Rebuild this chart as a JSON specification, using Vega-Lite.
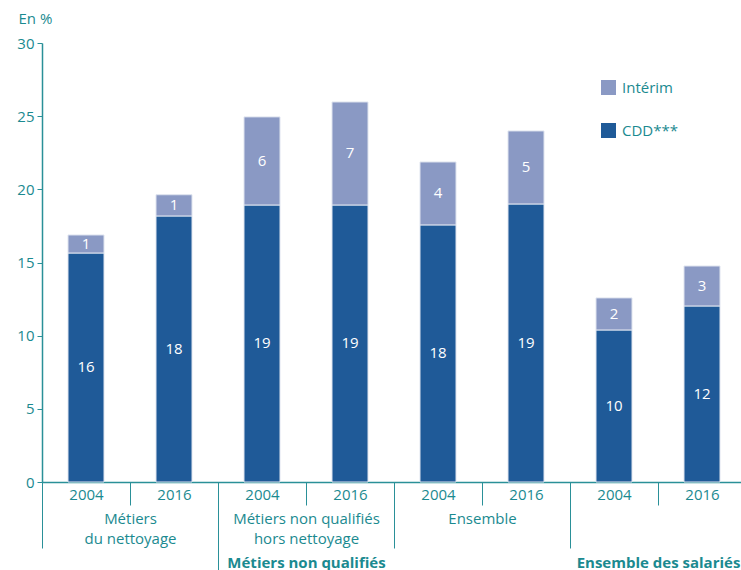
{
  "$schema": "https://vega.github.io/schema/vega-lite/v6.json",
  "width": 699,
  "height": 439,
  "autosize": "none",
  "padding": {"left": 42, "top": 43, "right": 0, "bottom": 88},
  "background": "white",
  "data": {
    "values": [
      {"groupe": "Métiers du nettoyage", "annee": "2004", "serie": "CDD***", "valeur": 15.65},
      {"groupe": "Métiers du nettoyage", "annee": "2004", "serie": "Intérim", "valeur": 1.23},
      {"groupe": "Métiers du nettoyage", "annee": "2016", "serie": "CDD***", "valeur": 18.18},
      {"groupe": "Métiers du nettoyage", "annee": "2016", "serie": "Intérim", "valeur": 1.45},
      {"groupe": "Métiers non qualifiés hors nettoyage", "annee": "2004", "serie": "CDD***", "valeur": 18.93},
      {"groupe": "Métiers non qualifiés hors nettoyage", "annee": "2004", "serie": "Intérim", "valeur": 6.02},
      {"groupe": "Métiers non qualifiés hors nettoyage", "annee": "2016", "serie": "CDD***", "valeur": 18.93},
      {"groupe": "Métiers non qualifiés hors nettoyage", "annee": "2016", "serie": "Intérim", "valeur": 7.04},
      {"groupe": "Ensemble", "annee": "2004", "serie": "CDD***", "valeur": 17.57},
      {"groupe": "Ensemble", "annee": "2004", "serie": "Intérim", "valeur": 4.3},
      {"groupe": "Ensemble", "annee": "2016", "serie": "CDD***", "valeur": 19.0},
      {"groupe": "Ensemble", "annee": "2016", "serie": "Intérim", "valeur": 4.99},
      {"groupe": "Ensemble des salariés", "annee": "2004", "serie": "CDD***", "valeur": 10.39},
      {"groupe": "Ensemble des salariés", "annee": "2004", "serie": "Intérim", "valeur": 2.19},
      {"groupe": "Ensemble des salariés", "annee": "2016", "serie": "CDD***", "valeur": 12.03},
      {"groupe": "Ensemble des salariés", "annee": "2016", "serie": "Intérim", "valeur": 2.73}
    ]
  },
  "transform": [
    {"calculate": "datum.groupe + '|' + datum.annee", "as": "barre"}
  ],
  "layer": [
    {
      "layer": [
        {
          "mark": {"type": "bar", "width": 36, "stroke": "#dfe4ef", "strokeWidth": 1},
          "encoding": {
            "y": {"field": "valeur", "type": "quantitative", "stack": "zero"},
            "order": {"field": "serie", "sort": "ascending"},
            "color": {
              "field": "serie",
              "type": "nominal",
              "scale": {"domain": ["CDD***", "Intérim"], "range": ["#1f5a98", "#8a99c4"]},
              "legend": {
                "values": ["Intérim", "CDD***"],
                "orient": "none",
                "legendX": 559,
                "legendY": 37,
                "title": null,
                "padding": 0,
                "symbolType": "square",
                "symbolSize": 225,
                "symbolStrokeWidth": 0,
                "labelFontSize": 15,
                "labelColor": "#1b8a90",
                "labelFont": "Open Sans",
                "labelOffset": 6,
                "rowPadding": 27
              }
            }
          }
        },
        {
          "mark": {"type": "text", "color": "white", "fontSize": 15, "font": "Open Sans", "baseline": "middle"},
          "encoding": {
            "y": {"field": "valeur", "type": "quantitative", "stack": "zero", "bandPosition": 0.5},
            "order": {"field": "serie", "sort": "ascending"},
            "detail": {"field": "serie"},
            "text": {"field": "valeur", "type": "quantitative", "format": ".0f"}
          }
        }
      ],
      "encoding": {
        "x": {
          "field": "barre",
          "type": "nominal",
          "sort": null,
          "scale": {"range": [0, 704], "paddingInner": 0, "paddingOuter": 0},
          "axis": {
            "title": null,
            "orient": "bottom",
            "labelExpr": "split(datum.label, '|')[1]",
            "labelAngle": 0,
            "tickBand": "extent",
            "tickSize": 23,
            "labelPadding": -18,
            "labelFontSize": 15,
            "labelFont": "Open Sans",
            "labelColor": "#1b8a90",
            "tickColor": "#2a9098",
            "domainColor": "#2a9098",
            "domainWidth": 1.5
          }
        },
        "y": {
          "field": "valeur",
          "type": "quantitative",
          "scale": {"domain": [0, 30], "nice": false},
          "axis": {
            "values": [0, 5, 10, 15, 20, 25, 30],
            "grid": false,
            "title": "En %",
            "titleAngle": 0,
            "titleAlign": "left",
            "titleBaseline": "middle",
            "titleX": -24,
            "titleY": -25,
            "titleFontSize": 15,
            "titleFontWeight": "normal",
            "titleFont": "Open Sans",
            "titleColor": "#1b8a90",
            "tickSize": 5,
            "labelPadding": 3,
            "labelFontSize": 15,
            "labelFont": "Open Sans",
            "labelColor": "#1b8a90",
            "tickColor": "#2a9098",
            "domainColor": "#2a9098",
            "domainWidth": 1.5
          }
        }
      }
    },
    {
      "mark": {"type": "tick", "opacity": 0},
      "encoding": {
        "x": {
          "field": "groupe",
          "type": "nominal",
          "sort": null,
          "scale": {"range": [0, 704], "paddingInner": 0, "paddingOuter": 0},
          "axis": {
            "title": null,
            "orient": "bottom",
            "domain": false,
            "labelAngle": 0,
            "tickBand": "extent",
            "tickSize": 66,
            "labelPadding": -37,
            "labelLineHeight": 20,
            "labelFontSize": 15,
            "labelFont": "Open Sans",
            "labelColor": "#1b8a90",
            "tickColor": "#2a9098",
            "labelExpr": "datum.value == 'Métiers du nettoyage' ? ['Métiers', 'du nettoyage'] : datum.value == 'Métiers non qualifiés hors nettoyage' ? ['Métiers non qualifiés', 'hors nettoyage'] : datum.value == 'Ensemble' ? 'Ensemble' : ''"
          }
        }
      }
    },
    {
      "mark": {"type": "tick", "opacity": 0},
      "encoding": {
        "x": {
          "field": "groupe",
          "type": "nominal",
          "sort": null,
          "scale": {"range": [0, 704], "paddingInner": 0, "paddingOuter": 0},
          "axis": {
            "title": null,
            "orient": "bottom",
            "domain": false,
            "labelAngle": 0,
            "tickBand": "extent",
            "tickSize": 90,
            "labelPadding": -17,
            "labelFontSize": 15,
            "labelFont": "Open Sans",
            "labelFontWeight": "bold",
            "labelColor": "#1b8a90",
            "tickColor": {
              "condition": {"test": "datum.value == 'Métiers du nettoyage' || datum.value == 'Ensemble des salariés'", "value": "#2a9098"},
              "value": "transparent"
            },
            "labelExpr": "datum.value == 'Métiers non qualifiés hors nettoyage' ? 'Métiers non qualifiés' : datum.value == 'Ensemble des salariés' ? 'Ensemble des salariés' : ''"
          }
        }
      }
    }
  ],
  "resolve": {"scale": {"x": "independent"}, "axis": {"x": "independent"}},
  "config": {
    "view": {"stroke": null},
    "axis": {"labelOverlap": false}
  }
}
